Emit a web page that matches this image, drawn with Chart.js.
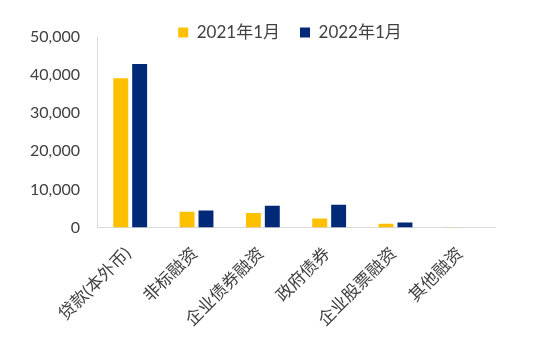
<!DOCTYPE html>
<html>
<head>
<meta charset="utf-8">
<script src="https://cdn.jsdelivr.net/npm/chart.js@4/dist/chart.umd.min.js"></script>
<style>
  html, body { margin: 0; padding: 0; background: #fff; }
  #wrap { width: 533px; height: 351px; }
</style>
</head>
<body>
<div id="wrap"><canvas id="chart"></canvas></div>
<script>
// 社融分项（亿元）
const categories = ['贷款(本外币)', '非标融资', '企业债券融资', '政府债券', '企业股票融资', '其他融资'];
const jan2021 = [39200, 4100, 3800, 2350, 950, 80];
const jan2022 = [42900, 4450, 5700, 5950, 1300, 10];
const seriesNames = ['2021年1月', '2022年1月'];
const yTicks = [0, 10000, 20000, 30000, 40000, 50000];

const FONT = "Lato, 'Noto Sans CJK SC', sans-serif";
const TEXT = '#404040';

// 图例高度固定，画的时候不裁切，稍微往左挪
const squeezeLegend = {
    id: 'squeezeLegend',
    beforeInit(chart) {
        const legend = chart.legend;
        const fit = legend.fit;
        legend.fit = function () {
            fit.call(this);
            this.height = 33;
        };
        legend.draw = function () {
            if (this.options.display) this._draw();
        };
    },
    afterLayout(chart) {
        chart.legend.left -= 6;
        chart.legend.right -= 6;
    }
};

new Chart(document.getElementById('chart'), {
    type: 'bar',
    data: {
        labels: categories,
        datasets: [
            { label: seriesNames[0], data: jan2021, backgroundColor: '#FFC000' },
            { label: seriesNames[1], data: jan2022, backgroundColor: '#002A78' }
        ]
    },
    options: {
        responsive: true,
        maintainAspectRatio: false,
        animation: false,
        layout: { padding: { left: 13, right: 38, top: 4, bottom: 5 } },
        datasets: { bar: { categoryPercentage: 0.57, barPercentage: 0.79 } },
        scales: {
            x: {
                grid: { display: false, drawTicks: false },
                border: { color: '#D9D9D9', width: 1 },
                ticks: {
                    color: TEXT,
                    font: { family: FONT, size: 17 },
                    maxRotation: 45,
                    minRotation: 45,
                    padding: 16,
                    labelOffset: -2
                }
            },
            y: {
                min: 0,
                max: 50000,
                afterBuildTicks: axis => { axis.ticks = yTicks.map(v => ({ value: v })); },
                grid: { display: false, drawTicks: false },
                border: { color: '#D9D9D9', width: 1 },
                ticks: {
                    color: TEXT,
                    font: { family: FONT, size: 16 },
                    padding: 17,
                    callback: v => v.toLocaleString('en-US')
                }
            }
        },
        plugins: {
            legend: {
                position: 'top',
                fullSize: false,
                labels: {
                    color: TEXT,
                    font: { family: FONT, size: 17 },
                    boxWidth: 10,
                    boxHeight: 10,
                    padding: 20
                }
            },
            tooltip: { enabled: false }
        }
    },
    plugins: [squeezeLegend]
});
</script>
</body>
</html>
